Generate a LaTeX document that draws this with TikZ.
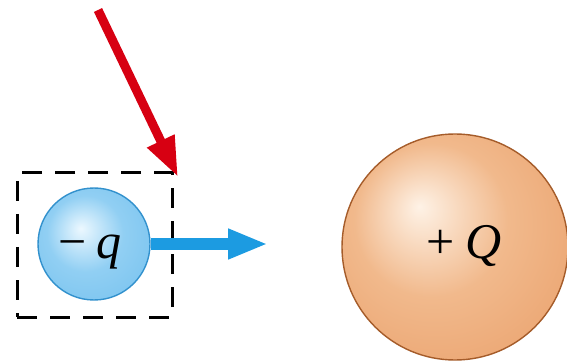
\documentclass[tikz,border=0pt]{standalone}
\usepackage{fontspec}
\setmainfont{Liberation Serif}
\usepackage{xcolor}
\usepackage{tikz}
\usetikzlibrary{positioning,arrows.meta}
\definecolor{SmallIn}{RGB}{236,248,255}
\definecolor{SmallMid}{RGB}{145,207,243}
\definecolor{SmallEdge}{RGB}{100,185,236}
\definecolor{SmallLine}{RGB}{50,145,205}
\definecolor{BigIn}{RGB}{254,242,230}
\definecolor{BigMid}{RGB}{241,185,140}
\definecolor{BigEdge}{RGB}{230,146,88}
\definecolor{BigLine}{RGB}{165,92,42}
\definecolor{ForceBlue}{RGB}{28,155,225}
\definecolor{ForceRed}{RGB}{215,0,18}
\pgfdeclareradialshading{smallsh}{\pgfpoint{-6bp}{7bp}}{color(0bp)=(SmallIn); color(17bp)=(SmallMid); color(50bp)=(SmallEdge)}
\pgfdeclareradialshading{bigsh}{\pgfpoint{-8bp}{9bp}}{color(0bp)=(BigIn); color(17bp)=(BigMid); color(50bp)=(BigEdge)}

\begin{document}
\begin{tikzpicture}[
x=0.5pt,y=-0.5pt,
box/.style={draw=black,line width=1.5pt,dash pattern=on 10pt off 6.5pt,minimum width=77.5pt,minimum height=72pt,inner sep=0pt},
small/.style={circle,draw=SmallLine,line width=0.7pt,shading=smallsh,minimum size=56pt,inner sep=0pt},
big/.style={circle,draw=BigLine,line width=0.7pt,shading=bigsh,minimum size=113pt,inner sep=0pt},
chg/.style={font=\fontsize{25}{28}\selectfont,anchor=base,inner sep=0pt},
force/.style={line width=#1}
]
\useasboundingbox (0,0) rectangle (567,363);
\node[box] (box) at (94.5,245) {};
\node[small] (qball) at (94,244) {};
\node[big] (Qball) at (455,247) {};
\node[chg] (qlbl) at (90,258) {−\hspace{0.2em}\textit{q}};
\node[chg] (Qlbl) at (464,258) {+\hspace{0.2em}\textit{Q}};
% forces
\coordinate (redtail) at (98,10);
\coordinate (redtip) at (178,177);
\coordinate (bluetip) at (268,244);
\draw[force=4.5pt,ForceRed,-{Triangle[length=20pt,width=14pt]}] (redtail) -- (redtip);
\draw[force=6pt,ForceBlue,-{Triangle[length=20pt,width=14pt]}] (qball.east) -- (bluetip);
\end{tikzpicture}
\end{document}
